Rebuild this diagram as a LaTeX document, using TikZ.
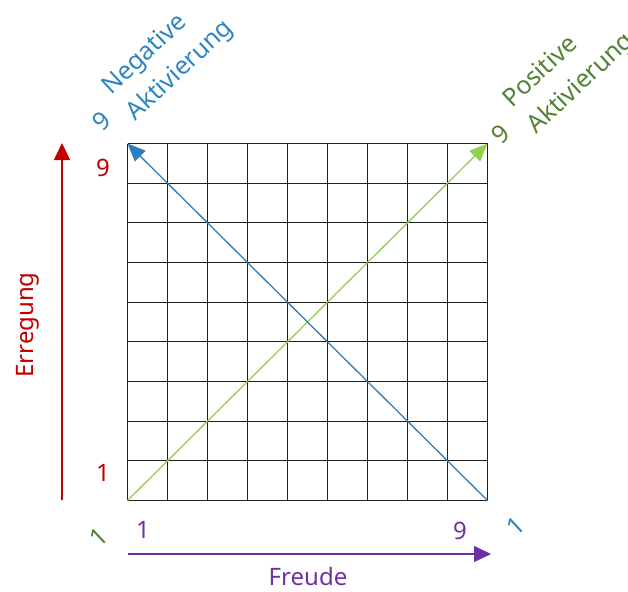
\documentclass[tikz,border=0pt]{standalone}
\usepackage{fontspec}
\setmainfont{Noto Sans}
\usetikzlibrary{arrows.meta}
\definecolor{cred}{HTML}{C00000}
\definecolor{cblue}{HTML}{2E7DBF}
\definecolor{cbluetext}{HTML}{2E86C1}
\definecolor{cgreen}{HTML}{92D050}
\definecolor{cgreentext}{HTML}{548235}
\definecolor{cpurple}{HTML}{7030A0}
\begin{document}
\begin{tikzpicture}[x=1pt,y=-1pt,
  lbl/.style={font=\fontsize{24}{35}\selectfont, inner sep=0pt},
  rlbl/.style={font=\fontsize{25}{36}\selectfont, inner sep=0pt, rotate=43},
  gridline/.style={line width=1.7pt, draw=black!88},
  axis/.style={line width=1.2pt, -{Triangle[length=17pt,width=16pt]}},
  diag/.style={line width=1.3pt, -{Triangle[length=18pt,width=15pt]}}]
\useasboundingbox (0,0) rectangle (628,591);
\foreach \x in {127.5,167.5,207.5,247.5,287.5,327.5,367.5,407.5,447.5,487.5} {
  \draw[gridline] (\x,143.5) -- (\x,500.5);
}
\foreach \y in {143.5,183.5,222.5,262.5,302.5,341.5,381.5,421.5,460.5,500.5} {
  \draw[gridline] (127.5,\y) -- (487.5,\y);
}
\coordinate (BL) at (127.5,500.5);
\coordinate (TL) at (127.5,143.5);
\coordinate (TR) at (487.5,143.5);
\coordinate (BR) at (487.5,500.5);
\draw[diag, cgreen] (BL) -- (TR);
\draw[diag, cblue] (BR) -- (TL);
\coordinate (rA) at (62,500);
\coordinate (rB) at (62,143);
\draw[axis, cred] (rA) -- (rB);
\coordinate (pA) at (128,554);
\coordinate (pB) at (491,554);
\draw[axis, cpurple] (pA) -- (pB);
\node[lbl,cred] (r9) at (103,168) {9};
\node[lbl,cred] (r1) at (103,473) {1};
\node[lbl,cpurple] (p1) at (143,530) {1};
\node[lbl,cpurple] (p9) at (460,531) {9};
\node[lbl,cpurple] (freude) at (308,576) {Freude};
\node[lbl,cred,rotate=90] (erreg) at (28,325) {Erregung};
\node[rlbl,cbluetext] (b9) at (102,121) {9};
\node[rlbl,cbluetext,anchor=west,align=left] (btext) at (119,104) {Negative\\Aktivierung};
\node[rlbl,cgreentext] (g9) at (501,134) {9};
\node[rlbl,cgreentext,anchor=west,align=left] (gtext) at (520,117) {Positive\\Aktivierung};
\node[rlbl,cgreentext] (g1) at (99,537) {1};
\node[rlbl,cbluetext] (b1) at (516,526) {1};
\end{tikzpicture}
\end{document}
